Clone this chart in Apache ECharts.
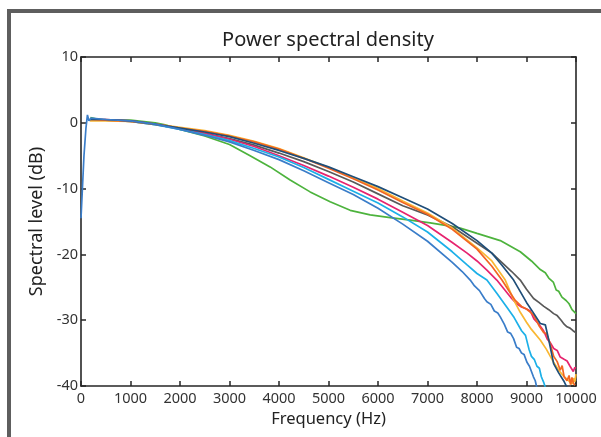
<!DOCTYPE html>
<html>
<head>
<meta charset="utf-8">
<script src="https://cdn.jsdelivr.net/npm/echarts@6/dist/echarts.min.js"></script>
<style>
html,body{margin:0;padding:0;background:#fff;}
#c{width:601px;height:437px;}
</style>
</head>
<body>
<div id="c"></div>
<script>
// ---- data (frequency Hz, level dB) ----
var xTicks = [0,1000,2000,3000,4000,5000,6000,7000,8000,9000,10000];
var yTicks = [-40,-30,-20,-10,0,10];

var green = [[190,0.8],[300,0.6],[500,0.4],[1000,0.4],[1500,0.0],[1700,-0.3],[2000,-1.0],[2500,-2.0],[3000,-3.3],[3416,-5.0],[3820,-6.7],[4225,-8.7],[4629,-10.5],[5033,-12.0],[5438,-13.3],[5842,-14.0],[6246,-14.4],[6650,-14.8],[7055,-15.2],[7459,-15.7],[7661,-16.0],[8000,-16.8],[8470,-17.9],[8874,-19.6],[9100,-21.0],[9278,-22.3],[9380,-22.8],[9450,-23.6],[9541,-24.2],[9600,-25.4],[9650,-25.6],[9716,-26.5],[9800,-27.0],[9860,-27.5],[9920,-28.4],[10000,-29.0]];

var gray = [[180,0.4],[500,0.4],[1000,0.2],[1500,-0.3],[2000,-0.9],[2500,-1.6],[3000,-2.4],[3500,-3.4],[4000,-4.6],[4500,-5.9],[5000,-7.4],[5500,-9.0],[6000,-10.8],[6500,-12.6],[7000,-14.0],[7500,-15.8],[8000,-18.3],[8300,-19.8],[8500,-21.2],[8700,-22.6],[8874,-23.9],[9000,-25.3],[9143,-26.7],[9250,-27.3],[9350,-27.9],[9450,-28.4],[9548,-29.0],[9620,-29.3],[9700,-30.0],[9760,-30.6],[9818,-31.0],[9880,-31.2],[9940,-31.6],[10000,-31.9]];

var navy = [[180,0.5],[500,0.5],[1000,0.3],[1500,-0.2],[2000,-0.8],[2500,-1.4],[3000,-2.1],[3500,-3.1],[4000,-4.2],[4500,-5.4],[5000,-6.7],[5500,-8.2],[6000,-9.7],[6500,-11.4],[7000,-13.1],[7500,-15.3],[8000,-17.9],[8300,-19.8],[8500,-21.6],[8740,-23.9],[9000,-27.3],[9150,-29.0],[9278,-30.5],[9380,-30.7],[9450,-33.0],[9548,-36.6],[9650,-38.0],[9750,-39.2],[9818,-40.2]];

var yellow = [[180,0.3],[500,0.3],[1000,0.2],[1500,-0.2],[2000,-0.7],[2500,-1.2],[3000,-1.9],[3500,-2.8],[4000,-3.9],[4500,-5.3],[5000,-6.8],[5500,-8.4],[6000,-10.0],[6500,-11.9],[7000,-13.7],[7500,-16.0],[8000,-19.0],[8300,-21.0],[8571,-23.9],[8733,-26.8],[8874,-28.8],[9000,-30.3],[9100,-31.4],[9278,-33.0],[9400,-34.4],[9548,-36.4],[9650,-37.6],[9750,-38.5],[9850,-39.2],[9918,-39.7],[9950,-38.8],[9975,-39.4],[10000,-38.2]];

var orange = [[180,0.5],[500,0.4],[1000,0.2],[1500,-0.2],[2000,-0.8],[2500,-1.3],[3000,-2.0],[3500,-2.9],[4000,-4.0],[4500,-5.4],[5000,-6.9],[5500,-8.5],[6000,-10.2],[6500,-12.1],[7000,-13.9],[7500,-16.2],[8000,-19.2],[8300,-21.8],[8504,-23.9],[8650,-25.6],[8773,-27.0],[8900,-27.9],[9000,-28.3],[9143,-29.2],[9250,-30.8],[9350,-31.9],[9400,-32.0],[9480,-33.6],[9550,-35.5],[9620,-36.3],[9682,-37.6],[9720,-36.9],[9760,-38.6],[9818,-39.2],[9860,-38.4],[9890,-39.8],[9918,-38.7],[9950,-39.6],[9980,-39.9]];

var pink = [[180,0.5],[500,0.5],[1000,0.3],[1500,-0.2],[2000,-0.8],[2500,-1.6],[3000,-2.5],[3500,-3.6],[4000,-5.0],[4500,-6.5],[5000,-8.1],[5500,-9.8],[6000,-11.6],[6500,-13.6],[7000,-15.6],[7500,-18.2],[7800,-19.8],[8000,-21.0],[8200,-22.4],[8400,-23.9],[8550,-25.3],[8700,-26.7],[8800,-27.5],[8900,-28.0],[9000,-28.3],[9077,-28.6],[9150,-29.8],[9250,-30.6],[9345,-31.6],[9420,-32.9],[9480,-33.4],[9550,-34.3],[9620,-34.6],[9682,-35.6],[9750,-35.9],[9820,-36.2],[9880,-37.0],[9945,-37.8],[9975,-37.2],[10000,-37.3]];

var lightBlue = [[180,0.5],[500,0.4],[1000,0.2],[1500,-0.3],[2000,-1.0],[2500,-1.8],[3000,-2.7],[3500,-3.9],[4000,-5.2],[4500,-6.8],[5000,-8.6],[5500,-10.4],[6000,-12.2],[6500,-14.3],[7000,-16.6],[7500,-19.6],[7800,-21.6],[8000,-22.9],[8200,-23.9],[8400,-25.9],[8600,-28.0],[8750,-29.6],[8900,-31.6],[8980,-32.3],[9050,-34.4],[9100,-35.5],[9160,-36.0],[9211,-37.0],[9260,-37.3],[9300,-38.6],[9345,-39.4],[9380,-40.2]];

var blue = [[0,-14.5],[60,-5.0],[100,-0.8],[130,1.2],[160,0.3],[200,0.7],[500,0.5],[1000,0.3],[1500,-0.2],[2000,-1.0],[2500,-1.9],[3000,-2.9],[3500,-4.2],[4000,-5.6],[4500,-7.3],[5000,-9.1],[5500,-10.9],[6000,-13.0],[6500,-15.4],[7000,-18.0],[7500,-21.2],[7700,-22.6],[7863,-23.9],[7950,-24.8],[8050,-25.5],[8150,-26.7],[8200,-27.2],[8280,-27.6],[8350,-28.6],[8420,-28.9],[8470,-29.5],[8550,-30.6],[8620,-31.8],[8680,-32.0],[8739,-32.8],[8800,-34.1],[8850,-34.3],[8900,-35.0],[8950,-35.2],[9009,-36.4],[9060,-37.0],[9100,-37.2],[9140,-38.6],[9177,-39.2],[9210,-40.3]];

var seriesList = [
  {name:'green', data:green, color:'#4db33d'},
  {name:'gray', data:gray, color:'#595959'},
  {name:'pink', data:pink, color:'#e6246f'},
  {name:'lightBlue', data:lightBlue, color:'#1cb0e8'},
  {name:'yellow', data:yellow, color:'#f9b733'},
  {name:'orange', data:orange, color:'#f26522'},
  {name:'navy', data:navy, color:'#1f4e79'},
  {name:'blue', data:blue, color:'#3a7dc9'}
];

var FONT = '"Noto Sans", sans-serif';
var axisCol = '#262626';
var labelCol = '#333333';
function plain(v){ return String(v); }

var chart = echarts.init(document.getElementById('c'), null, {renderer:'canvas'});
chart.setOption({
  animation:false,
  backgroundColor:'#ffffff',
  title:{
    text:'Power spectral density',
    left:323, top:25, textAlign:'center',
    textStyle:{fontFamily:FONT, fontSize:20, fontWeight:'normal', color:'#222'}
  },
  graphic:[
    {type:'rect', shape:{x:7,y:9,width:4,height:428}, style:{fill:'#5e5e5e'}, z:100},
    {type:'rect', shape:{x:7,y:9,width:594,height:4}, style:{fill:'#5e5e5e'}, z:100}
  ],
  grid:{left:81, right:25, top:57, bottom:51, containLabel:false},
  xAxis:[{
    type:'value', min:xTicks[0], max:xTicks[xTicks.length-1], interval:1000,
    name:'Frequency (Hz)', nameLocation:'middle', nameGap:17,
    nameTextStyle:{fontFamily:FONT, fontSize:16.5, color:'#222'},
    axisLine:{show:true, onZero:false, lineStyle:{color:axisCol, width:1.6}},
    axisTick:{show:true, inside:true, length:5, lineStyle:{color:axisCol, width:1.5}},
    axisLabel:{fontFamily:FONT, fontSize:14.5, color:labelCol, margin:5, formatter:plain},
    splitLine:{show:false}
  },{
    type:'value', position:'top', min:xTicks[0], max:xTicks[xTicks.length-1], interval:1000,
    axisLine:{show:true, onZero:false, lineStyle:{color:axisCol, width:1.6}},
    axisTick:{show:true, inside:true, length:5, lineStyle:{color:axisCol, width:1.5}},
    axisLabel:{show:false}, splitLine:{show:false}
  }],
  yAxis:[{
    type:'value', min:yTicks[0], max:yTicks[yTicks.length-1], interval:10,
    name:'Spectral level (dB)', nameLocation:'middle', nameGap:35,
    nameTextStyle:{fontFamily:FONT, fontSize:18, color:'#222'},
    axisLine:{show:true, onZero:false, lineStyle:{color:axisCol, width:1.6}},
    axisTick:{show:true, inside:true, length:5, lineStyle:{color:axisCol, width:1.5}},
    axisLabel:{fontFamily:FONT, fontSize:14.5, color:labelCol, margin:3, formatter:plain},
    splitLine:{show:false}
  },{
    type:'value', position:'right', min:yTicks[0], max:yTicks[yTicks.length-1], interval:10,
    axisLine:{show:true, onZero:false, lineStyle:{color:axisCol, width:1.6}},
    axisTick:{show:true, inside:true, length:5, lineStyle:{color:axisCol, width:1.5}},
    axisLabel:{show:false}, splitLine:{show:false}
  }],
  series: seriesList.map(function(s){
    return {
      name:s.name, type:'line', data:s.data, showSymbol:false, symbol:'none',
      smooth:false, clip:true, xAxisIndex:0, yAxisIndex:0,
      lineStyle:{color:s.color, width:1.7}, itemStyle:{color:s.color}
    };
  })
});
</script>
</body>
</html>
